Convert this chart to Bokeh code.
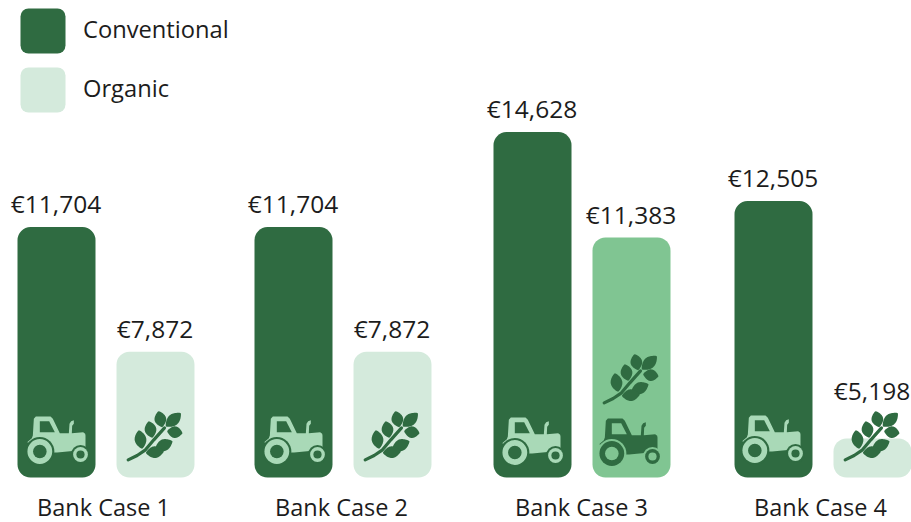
import numpy as np
from bokeh.plotting import figure
from bokeh.models import Range1d, FixedTicker
from bokeh.core.properties import value
from bokeh.embed import file_html
from bokeh.resources import INLINE

categories = ["Bank Case 1", "Bank Case 2", "Bank Case 3", "Bank Case 4"]
conventional = [11704, 11704, 14628, 12505]
organic = [7872, 7872, 11383, 5198]
series_names = ["Conventional", "Organic"]

DARK, LIGHT, MID, PALE = "#2f6b41", "#d4eadc", "#80c592", "#a9d9b7"
INK = "#1c1c1c"
FONT = "Open Sans"

# layout (page pixels)
conv_left = [17, 254, 493, 734]
org_left = [116, 353, 592, 833]
label_centres = [103, 341, 581, 820]
BAR_W = 78
org_colours = [LIGHT, LIGHT, MID, LIGHT]
FRAME_TOP, FRAME_BOTTOM, LEFT, RIGHT = 0, 490, 0, 911
BASE_VALUE, PX_PER_EURO, BASE_PX = 4000, 0.0325, 477

y0 = BASE_VALUE - (FRAME_BOTTOM - BASE_PX) / PX_PER_EURO
y1 = y0 + (FRAME_BOTTOM - FRAME_TOP) / PX_PER_EURO

p = figure(frame_width=RIGHT - LEFT, frame_height=FRAME_BOTTOM - FRAME_TOP, output_backend="svg", toolbar_location=None,
           x_range=Range1d(LEFT, RIGHT), y_range=Range1d(y0, y1),
           min_border_left=0, min_border_right=0, min_border_top=0, min_border_bottom=0,
           outline_line_color=None)
p.extra_y_ranges = {"px": Range1d(FRAME_BOTTOM, FRAME_TOP)}
p.grid.visible = False
p.yaxis.visible = False
ax = p.xaxis[0]
ax.ticker = FixedTicker(ticks=label_centres)
ax.major_label_overrides = dict(zip(label_centres, categories))
ax.axis_line_color = None
ax.major_tick_line_color = None
ax.minor_tick_line_color = None
ax.major_tick_out = 0
ax.major_tick_in = 0
ax.minor_tick_out = 0
ax.minor_tick_in = 0
ax.major_label_text_font = FONT
ax.major_label_text_font_size = "23.5px"
ax.major_label_text_color = INK
ax.major_label_standoff = 0

# bars
cl = np.array(conv_left, float); ol = np.array(org_left, float)
p.quad(left=cl, right=cl + BAR_W, bottom=BASE_VALUE, top=conventional, fill_color=DARK,
       line_color=None, border_radius=13)
p.quad(left=ol, right=ol + BAR_W, bottom=BASE_VALUE, top=organic, fill_color=org_colours,
       line_color=None, border_radius=13)

# value labels
fmt = lambda v: f"€{v:,}"
label_off = [-24, -24, -24, -24]
org_off = [-23, -23, -23, -48]
for lefts, vals, offs in ((cl, conventional, label_off), (ol, organic, org_off)):
    p.text(x=lefts + BAR_W / 2 - 0.5, y=vals, text=[fmt(v) for v in vals], y_offset=offs,
           text_align="center", text_baseline="middle", text_color=INK,
           text_font=value(FONT), text_font_size="24.5px")


# icons: outlines in local units, 3 units = 1 pixel
def tractor(bar_left, dx, dy, fg, bg):
    ox = bar_left - 51 / 3 + dx
    oy = 477 - 291 / 3 + dy
    X = lambda a: ox + np.array(a, float) / 3
    Y = lambda a: oy + np.array(a, float) / 3
    bx = [80, 94, 97, 100, 106, 150, 157, 178, 205, 207, 212, 220, 220, 215, 214, 248, 254, 255, 255, 170, 150, 100]
    by = [185, 173, 165, 115, 108, 108, 115, 158, 158, 130, 122, 119, 130, 136, 158, 155, 160, 165, 208, 216, 216, 190]
    p.patch(X(bx), Y(by), fill_color=fg, line_color=None, y_range_name="px")
    wx = [118, 146, 163, 118]; wy = [122, 122, 155, 155]
    p.patch(X(wx), Y(wy), fill_color=bg, line_color=None, y_range_name="px")
    for cx, cy, gap, ro, ri in ((118, 213, 14.5, 12.4, 6.8), (240, 222, 9.5, 7.4, 4.1)):
        xc, yc = float(X(cx)), float(Y(cy))
        p.circle([xc], [yc], radius=gap, fill_color=bg, line_color=None, y_range_name="px")
        p.circle([xc], [yc], radius=ro, fill_color=fg, line_color=None, y_range_name="px")
        p.circle([xc], [yc], radius=ri, fill_color=bg, line_color=None, y_range_name="px")


LEAVES = [((496, 138), (541, 98)), ((500, 152), (546, 158)), ((464, 206), (516, 182)),
          ((436, 217), (490, 213)), ((485, 140), (474, 92)), ((455, 172), (445, 122)), ((425, 205), (415, 149))]
T = np.linspace(0, 1, 25)


def leaf(bar_left, dx, dy, fg):
    ox = bar_left - 348 / 3 + dx
    oy = 477 - 291 / 3 + dy
    for (bx, by), (tx, ty) in LEAVES:
        vx, vy = tx - bx, ty - by
        L = np.hypot(vx, vy)
        nx, ny = -vy / L, vx / L
        w = 17.5 * np.sin(np.pi * T) ** 0.8
        xs = np.r_[bx + vx * T + nx * w, (bx + vx * T - nx * w)[::-1]]
        ys = np.r_[by + vy * T + ny * w, (by + vy * T - ny * w)[::-1]]
        p.patch(ox + xs / 3, oy + ys / 3, fill_color=fg, line_color=None, y_range_name="px")
    sx = np.array([383, 410, 435, 460, 492]); sy = np.array([238, 225, 208, 178, 142])
    p.line(ox + sx / 3, oy + sy / 3, line_color=fg, line_width=3.2, line_cap="round", y_range_name="px")


t_off = [(0, 0), (0, 0), (-1, 1), (-2, -1)]
for left, (dx, dy) in zip(conv_left, t_off):
    tractor(left, dx, dy, PALE, DARK)
tractor(592, -3, 2, DARK, MID)
for left, dy in zip(org_left, (0, 0, -57, 0)):
    leaf(left, 0, dy, DARK)

# legend
lx = [20, 20]; ly = [8, 67]
for x0, y, col, name in zip(lx, ly, (DARK, LIGHT), series_names):
    p.quad(left=[x0], right=[x0 + 45], top=[y], bottom=[y + 45], fill_color=col, line_color=None,
           border_radius=8, y_range_name="px")
    p.text(x=[x0 + 62.5], y=[y + 20.5], text=[name], text_baseline="middle", text_color=INK,
           text_font=value(FONT), text_font_size="23.7px", y_range_name="px")

open("out.html", "w").write(file_html(p, INLINE))
